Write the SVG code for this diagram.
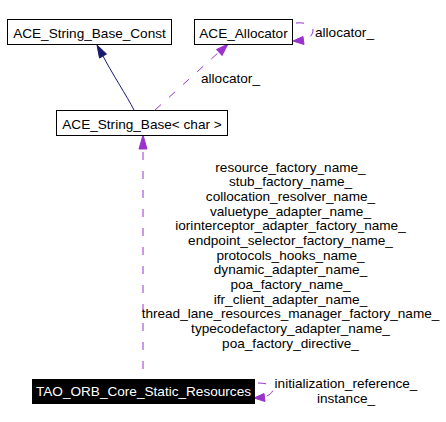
<svg xmlns="http://www.w3.org/2000/svg" width="446" height="422" viewBox="0 0 446 422">
<style>
text{font-family:"Liberation Sans",Arial,sans-serif;font-size:13.6px;fill:#000}
.box{fill:#fff;stroke:#000;stroke-width:1}
.dark{fill:#000;stroke:#000}
.mid{text-anchor:middle}
.dash{fill:none;stroke:#9a32cd;stroke-width:1;stroke-dasharray:8,11}
.inh{fill:none;stroke:#191970;stroke-width:1}
.ph{fill:#9a32cd;stroke:#9a32cd}
.bh{fill:#191970;stroke:#191970}
</style>
<rect width="446" height="422" fill="#fff"/>
<g id="connectors">
<path class="inh" d="M134,110 C128,98 110,70 103,56"/>
<polygon class="bh" points="97,45 106.5,54 99.5,58"/>
<path class="dash" d="M155,110 L219,52"/>
<polygon class="ph" points="228,44 222,55.5 216.5,49.5"/>
<path class="dash" d="M296,23 C305,22 313,25 313,30 C313,36 308,39 303,40"/>
<polygon class="ph" points="293,41 303,36.5 304,44.5"/>
<path class="dash" d="M143,369 L143,149"/>
<polygon class="ph" points="143,135 147,149 139,149"/>
<path class="dash" d="M258,383 C266,383 273,385 273,389 C273,393 268,396 264,397"/>
<polygon class="ph" points="254,398 264,393.5 265,401.5"/>
<text x="230.5" y="82.5" class="mid">allocator_</text>
<text x="344.5" y="36.5" class="mid">allocator_</text>
<g class="mid">
<text x="290.5" y="171.5" class="mid">resource_factory_name_</text>
<text x="290.5" y="186.2" class="mid">stub_factory_name_</text>
<text x="290.5" y="200.8" class="mid">collocation_resolver_name_</text>
<text x="290.5" y="215.5" class="mid">valuetype_adapter_name_</text>
<text x="290.5" y="230.2" class="mid">iorinterceptor_adapter_factory_name_</text>
<text x="290.5" y="244.8" class="mid">endpoint_selector_factory_name_</text>
<text x="290.5" y="259.5" class="mid">protocols_hooks_name_</text>
<text x="290.5" y="274.2" class="mid">dynamic_adapter_name_</text>
<text x="290.5" y="288.8" class="mid">poa_factory_name_</text>
<text x="290.5" y="303.5" class="mid">ifr_client_adapter_name_</text>
<text x="290.5" y="318.2" class="mid">thread_lane_resources_manager_factory_name_</text>
<text x="290.5" y="332.8" class="mid">typecodefactory_adapter_name_</text>
<text x="290.5" y="347.5" class="mid">poa_factory_directive_</text>
</g>
<text x="346" y="388" class="mid">initialization_reference_</text>
<text x="346" y="402.5" class="mid">instance_</text>
</g>
<g id="node-string-base-const">
<rect class="box" x="7.5" y="19.5" width="164" height="25"/>
<text x="89.5" y="38" class="mid">ACE_String_Base_Const</text>
</g>
<g id="node-allocator">
<rect class="box" x="194.5" y="19.5" width="98" height="25"/>
<text x="243.5" y="38" class="mid">ACE_Allocator</text>
</g>
<g id="node-string-base-char">
<rect class="box" x="56.5" y="110.5" width="171" height="25"/>
<text x="142" y="128.5" class="mid">ACE_String_Base&lt; char &gt;</text>
</g>
<g id="node-static-resources">
<rect class="dark" x="32.5" y="379.5" width="222" height="24"/>
<text x="143.5" y="396" class="mid" style="fill:#fff">TAO_ORB_Core_Static_Resources</text>
</g>
</svg>
